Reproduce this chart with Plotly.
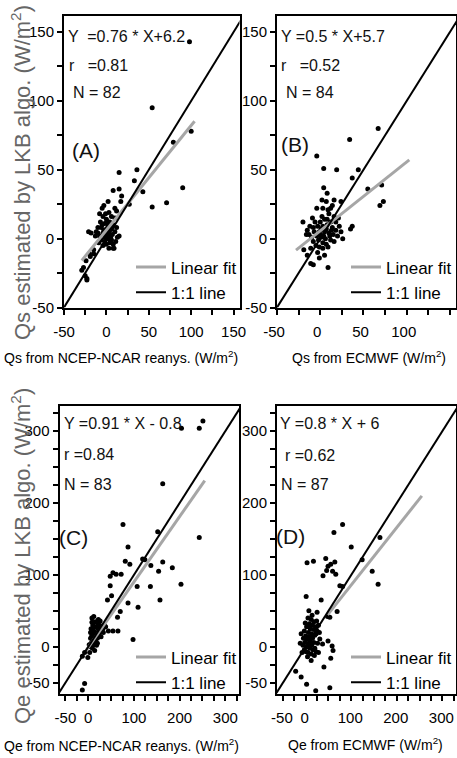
import plotly.graph_objects as go

W, H = 457, 758

# ---------------- data ----------------
# Panel A: Qs, NCEP-NCAR vs LKB
A_x = [98, 54, 100, 79, 90, 71, 54, 36, 33, 43, 27, 15, 8, 15, 18, 17, 2, 10, 15, 9,
       -5, -3, 3, -8, -4, 0, 6, -7, -2, 4, 8, -6, 0, 6, -21, -18, -13, -10, -4, 1,
       4, 10, 13, -2, 2, 6, -6, 0, 8, -4, 8, 3, -15, -19, -24, -27, -29, -23, -25, -23,
       -20, -15, -1, 2, 5, -3, 3, -8, -1, 5, -5, 1, 10, 12, -10, 7, -2, 4, 11, -9,
       12, -12]
A_y = [143, 95, 78, 70, 37, 26, 23, 50, 42, 34, 25, 48, 35, 36, 31, 27, 27, 22, 2, -7,
       22, 24, 19, 18, 16, 14, 16, 12, 11, 12, 10, 8, 7, 7, 5, 4, 2, 4, 4, 4,
       3, 5, 1, 1, 0, -1, -1, -4, -4, -5, -7, -7, -11, -13, -16, -21, -23, -29, -27, -30,
       -11, -8, 18, 9, 10, 6, 6, 2, 2, 1, 10, 12, 15, 8, 8, 3, -2, -3, -2, -3,
       20, 5]

# Panel B: Qs, ECMWF vs LKB
B_x = [67, 34, -4, 4, 19, 44, 37, 55, 71, 73, 69, 4, 8, 2, 7, 16, 24, 14, 3, -4,
       9, -9, 16, 21, -20, 35, 37, 24, 26, -15, -13, -19, -15, -11, -8, -1, 9, 3, 7, -5,
       10, 5, 0, 12, -3, 3, 8, 14, 18, -7, -1, 5, 10, 15, 20, -10, -4, 1, 6, 12,
       -8, -2, 3, 9, -11, 0, 7, 2, 12, -6, -12, 18, 22, 16, -16, -3, 5, 11, -8, 1,
       13, 4, -1, 8]
B_y = [80, 72, 60, 51, 50, 50, 44, 36, 39, 27, 24, 37, 33, 28, 27, 28, 27, 24, 22, 22,
       21, 15, 16, 15, 12, 7, 9, 5, 0, 6, 3, -8, -12, -18, -19, -14, -21, -7, -4, -5,
       18, 14, 12, 12, 9, 9, 10, 8, 6, 5, 5, 5, 4, 3, 2, 1, 2, 1, 0, -1,
       -2, -1, -3, -6, -7, 3, 7, 16, 22, 12, 9, 12, 9, -2, 3, -10, -12, 2, 8, 7,
       6, 2, -6, 14]

# Panel C: Qe, NCEP-NCAR vs LKB
C_x = [204, 243, 251, 163, 76, 152, 243, 87, 81, 91, 119, 124, 137, 163, 154, 184, 203, 157, 136, 107,
       109, 87, 70, 64, 54, 61, 72, 48, 48, 51, 42, 65, 54, 44, 98, -8, -13, -1, -8, -13,
       8, 12, 15, 20, 25, 30, 35, 10, 18, 22, 28, 33, 6, 12, 16, 24, 8, 14, 20, 5,
       10, 16, 6, 12, 18, 4, 9, 14, 3, 8, 26, 32, 22, 38, 10, 7, 18, 11, 15, 5,
       20, 28, 2]
C_y = [304, 304, 314, 227, 170, 160, 152, 139, 119, 115, 122, 121, 113, 118, 105, 110, 87, 65, 84, 84,
       55, 61, 49, 41, 103, 101, 101, 98, 85, 71, 65, 22, 22, 22, 10, -8, -13, -15, -51, -60,
       40, 42, 35, 33, 30, 28, 30, 30, 28, 25, 22, 20, 25, 22, 20, 18, 18, 15, 12, 12,
       10, 8, 5, 3, 2, 0, -2, -5, -8, 34, 36, 25, 38, 28, 8, 14, 15, 26, 10, 20,
       5, 14, 3]

# Panel D: Qe, ECMWF vs LKB
D_x = [81, 62, 100, 163, 124, 146, 159, 3, 17, 44, 55, 64, 49, 46, 38, 59, 66, 75, 81, 1,
       34, 69, 48, 53, 25, 58, 60, 55, 40, 37, 49, 23, 1, 12, -22, -10, 2, 22, 53, 23,
       31, 5, 12, 18, 8, 15, 22, 28, 2, 10, 18, 25, -3, 6, 13, 20, 0, 8, 15, -5,
       3, 10, 18, -2, 6, 13, -6, 2, 9, 16, -3, 5, 12, -8, 20, 26, 30, -1, 14, 24,
       7, -10, -12, 11, 4, 19, 28]
D_y = [170, 159, 139, 152, 121, 105, 87, 117, 119, 123, 115, 118, 112, 106, 99, 105, 101, 85, 84, 70,
       65, 49, 42, 41, 48, 1, -5, -16, -28, 4, 8, -7, -7, -19, -34, -42, -52, -61, -57, 18,
       11, 40, 38, 35, 32, 30, 28, 30, 28, 25, 24, 22, 22, 20, 18, 16, 15, 14, 12, 12,
       10, 8, 6, 6, 4, 2, 2, 0, -2, -4, -4, -8, -10, -8, -2, 5, 20, 33, 44, 36,
       50, 18, 5, 30, -14, -12, -8]

slopes = [0.76, 0.5, 0.91, 0.8]
intercepts = [6.2, 5.7, -0.8, 6]
fit_x_ranges = [[-29, 104], [-28, 103], [-5, 255], [48, 255]]
one_to_one = [[-50, 162], [-50, 162], [-65, 335], [-65, 335]]

eq_texts = ["Y  =0.76 * X+6.2", "Y =0.5 * X+5.7", "Y =0.91 * X - 0.8", "Y =0.8 * X + 6"]
r_texts = ["r   =0.81", "r   =0.52", "r =0.84", "r =0.62"]
n_texts = ["N = 82", "N = 84", "N = 83", "N = 87"]
panel_labels = ["(A)", "(B)", "(C)", "(D)"]

x_titles = ["Qs from NCEP-NCAR reanys. (W/m<sup>2</sup>)", "Qs from ECMWF (W/m<sup>2</sup>)",
            "Qe from NCEP-NCAR reanys. (W/m<sup>2</sup>)", "Qe from ECMWF (W/m<sup>2</sup>)"]
y_titles = ["Qs estimated by LKB algo. (W/m<sup>2</sup>)", "Qe estimated by LKB algo. (W/m<sup>2</sup>)"]

# tick positions every 25, labels only on the major ones
qs_ticks = [-50, -25, 0, 25, 50, 75, 100, 125, 150]
qs_ticktext = ["-50", "", "0", "", "50", "", "100", "", "150"]
qe_ticks = [-50, -25, 0, 25, 50, 75, 100, 125, 150, 175, 200, 225, 250, 275, 300, 325]
qe_ticktext = ["-50", "", "0", "", "", "", "100", "", "", "", "200", "", "", "", "300", ""]

# ---------------- layout helpers ----------------
FONT = "Liberation Sans, Arial, sans-serif"


def px(x):
    return x / W


def py(y):
    return 1 - y / H


# pixel boxes (left, right, top, bottom)
boxes = [(64, 239.5, 15.5, 307.5), (277, 456, 15.5, 307.5),
         (59.5, 239, 406, 693.5), (277, 456, 406, 693.5)]
xranges = [[-50, 157], [-50, 157], [-63, 330], [-63, 330]]
yranges = [[-50, 162], [-50, 162], [-65, 335], [-65, 335]]
ticksets = [(qs_ticks, qs_ticktext), (qs_ticks, qs_ticktext),
            (qe_ticks, qe_ticktext), (qe_ticks, qe_ticktext)]
xlabel_shift = [0, -3, 0, -1]

data = [(A_x, A_y), (B_x, B_y), (C_x, C_y), (D_x, D_y)]
legend_names = ["legend", "legend2", "legend3", "legend4"]

fig = go.Figure()
for i, (xs, ys) in enumerate(data):
    ax = "" if i == 0 else str(i + 1)
    xa, ya = "x" + ax, "y" + ax
    fig.add_trace(go.Scatter(x=xs, y=ys, mode="markers", xaxis=xa, yaxis=ya,
                             marker=dict(color="black", size=5), showlegend=False))
    fx = fit_x_ranges[i]
    fy = [slopes[i] * v + intercepts[i] for v in fx]
    fig.add_trace(go.Scatter(x=fx, y=fy, mode="lines", xaxis=xa, yaxis=ya,
                             line=dict(color="#a6a6a6", width=3), name="Linear fit",
                             legend=legend_names[i]))
    fig.add_trace(go.Scatter(x=one_to_one[i], y=one_to_one[i], mode="lines", xaxis=xa, yaxis=ya,
                             line=dict(color="black", width=2), name="1:1 line",
                             legend=legend_names[i]))

layout = dict(width=W, height=H, margin=dict(l=0, r=0, t=0, b=0, autoexpand=False),
              template="none",
              paper_bgcolor="white", plot_bgcolor="white", showlegend=True)

annotations = []
eq_pos = [(66, 67, 71), (279, 279, 284), (62, 62, 62), (278, 283, 279)]
eq_y = [(37, 65, 92), (37, 65, 92), (423, 454, 484), (423, 455, 484)]
lab_pos = [(86, 151), (295, 145), (73, 537), (290, 536)]
xt_pos = [(121, 357), (369, 357), (121, 745), (365, 744)]
legend_right = [242, 457, 242, 457]
legend_bottom = [310.5, 310.5, 700.5, 700.5]

for i in range(4):
    l, r, t, b = boxes[i]
    ax = "" if i == 0 else str(i + 1)
    tv, tt = ticksets[i]
    common = dict(showline=True, linecolor="black", linewidth=2, mirror=True,
                  showgrid=False, zeroline=False, automargin=False,
                  tickmode="array", tickvals=tv, ticktext=tt,
                  ticks="outside", ticklen=5, tickwidth=1.5, tickcolor="black",
                  tickfont=dict(family=FONT, size=15, color="black"))
    layout["xaxis" + ax] = dict(domain=[px(l), px(r)], range=xranges[i], anchor="y" + ax,
                                tickangle=0, ticklabelstandoff=4,
                                ticklabelshift=xlabel_shift[i], **common)
    layout["yaxis" + ax] = dict(domain=[py(b), py(t)], range=yranges[i], anchor="x" + ax,
                                ticklabelstandoff=0, **common)
    layout[legend_names[i]] = dict(
        x=px(legend_right[i]), xanchor="right", y=py(legend_bottom[i]), yanchor="bottom",
        bgcolor="rgba(0,0,0,0)", borderwidth=0,
        font=dict(family=FONT, size=17, color="black"),
        tracegroupgap=0, itemwidth=30, traceorder="normal")
    for txt, xx, yy in zip([eq_texts[i], r_texts[i], n_texts[i]], eq_pos[i], eq_y[i]):
        annotations.append(dict(text=txt, x=px(xx), y=py(yy), xref="paper", yref="paper",
                                xanchor="left", yanchor="middle", showarrow=False,
                                font=dict(family=FONT, size=16, color="#111")))
    annotations.append(dict(text=panel_labels[i], x=px(lab_pos[i][0]), y=py(lab_pos[i][1]),
                            xref="paper", yref="paper", xanchor="center", yanchor="middle",
                            showarrow=False, font=dict(family=FONT, size=21, color="#111")))
    annotations.append(dict(text=x_titles[i], x=px(xt_pos[i][0]), y=py(xt_pos[i][1]),
                            xref="paper", yref="paper", xanchor="center", yanchor="middle",
                            showarrow=False, font=dict(family=FONT, size=14, color="black")))

for txt, yy in zip(y_titles, [173, 556]):
    annotations.append(dict(text=txt, x=px(21), y=py(yy), xref="paper", yref="paper",
                            xanchor="center", yanchor="middle", textangle=-90, showarrow=False,
                            font=dict(family=FONT, size=22, color="#666")))

layout["annotations"] = annotations
fig.update_layout(**layout)
fig.write_html("out.html")
